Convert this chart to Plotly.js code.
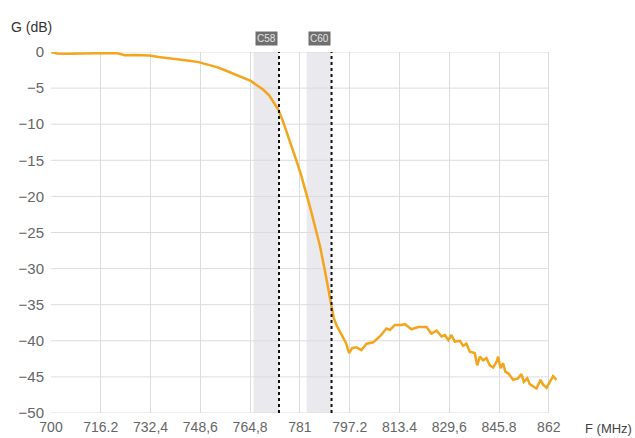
<!DOCTYPE html>
<html>
<head>
<meta charset="utf-8">
<script src="https://cdn.plot.ly/plotly-3.0.1.min.js"></script>
<style>
html,body{margin:0;padding:0;background:#fff;}
#chart{width:635px;height:438px;}
</style>
</head>
<body>
<div id="chart"></div>
<script>
// Frequency (MHz) and gain (dB)
const freq = [700, 702, 705, 710, 715, 720, 722, 724, 727, 730, 732, 735, 740, 745, 748, 751, 754, 757, 760, 763, 765, 767, 769, 771, 773, 774, 775.5, 777, 778.5, 780, 781.5, 783, 784.5, 786, 787.5, 789, 790, 791, 792, 793, 794.5, 796, 797, 798, 799.4, 801, 802.7, 804.9, 807, 809.2, 810.3, 811.9, 814.1, 815.2, 817.3, 819.5, 822.2, 823.8, 825.5, 827.1, 828.2, 829.3, 830.3, 831.4, 833.1, 834.1, 835.2, 836.3, 837.9, 838.7, 839.6, 840.6, 841.7, 842.8, 843.9, 845.0, 845.5, 846.3, 847.1, 847.9, 848.8, 850.4, 852.0, 853.1, 853.9, 855.0, 855.8, 857.1, 858.0, 859.3, 860.2, 861.3, 862.3, 863.4, 864.5];
const gain = [0, -0.2, -0.25, -0.2, -0.15, -0.15, -0.2, -0.45, -0.4, -0.4, -0.5, -0.7, -0.9, -1.2, -1.4, -1.7, -2.1, -2.6, -3.1, -3.6, -4.0, -4.6, -5.2, -6.0, -7.3, -8.0, -9.6, -11.4, -13.3, -15.2, -17.2, -19.4, -21.8, -24.3, -26.8, -30.0, -32.4, -35.0, -36.8, -37.9, -39.0, -40.3, -41.7, -41.0, -40.9, -41.3, -40.4, -40.2, -39.4, -38.3, -38.5, -37.8, -37.8, -37.7, -38.4, -38.1, -38.1, -39.0, -38.6, -39.4, -39.2, -39.9, -39.2, -40.1, -40.0, -40.7, -40.4, -41.5, -41.7, -43.4, -42.2, -42.7, -42.4, -43.4, -43.7, -42.9, -42.2, -43.8, -43.1, -44.3, -44.5, -45.4, -45.2, -44.6, -45.7, -45.2, -46.0, -46.3, -46.6, -45.4, -46.1, -46.5, -45.7, -44.9, -45.4];

// Axis ticks
const xTickVals = [700, 716.2, 732.4, 748.6, 764.8, 781, 797.2, 813.4, 829.6, 845.8, 862];
const xTickText = ['700', '716.2', '732,4', '748,6', '764,8', '781', '797.2', '813.4', '829,6', '845.8', '862'];
const yTickVals = [0, -5, -10, -15, -20, -25, -30, -35, -40, -45, -50];

// Channel bands
const channelNames = ['C58', 'C60'];
const channelStart = [765.9, 783.2];
const channelEnd = [774.2, 791.3];

const gridColor = '#dcdcdc';
const shapes = [];
channelNames.forEach((n, i) => {
  shapes.push({type: 'rect', xref: 'x', yref: 'y', x0: channelStart[i], x1: channelEnd[i], y0: -50, y1: 0,
    fillcolor: '#e9e9ee', line: {width: 0}, layer: 'below'});
});
yTickVals.forEach(v => {
  shapes.push({type: 'line', xref: 'x', yref: 'y', x0: 700, x1: 862, y0: v, y1: v,
    line: {color: gridColor, width: 1}, layer: 'below'});
});
channelNames.forEach((n, i) => {
  shapes.push({type: 'line', xref: 'x', yref: 'y', x0: channelEnd[i], x1: channelEnd[i], y0: -50, y1: 0,
    line: {color: '#111', width: 2, dash: 'dot'}, layer: 'above'});
});

const annotations = channelNames.map((n, i) => ({
  text: n, xref: 'x', yref: 'paper', x: (channelStart[i] + channelEnd[i]) / 2, y: 1.037,
  showarrow: false, bgcolor: '#6e6e6e', font: {family: 'Liberation Sans, Arial, sans-serif', size: 10, color: '#e4e4e4'},
  borderpad: 1, xanchor: 'center', yanchor: 'middle'
}));
annotations.push({text: 'G (dB)', xref: 'paper', yref: 'paper', x: -0.083, y: 1.07, xanchor: 'left', yanchor: 'middle',
  showarrow: false, font: {family: 'Liberation Sans, Arial, sans-serif', size: 14, color: '#333'}});
annotations.push({text: 'F (MHz)', xref: 'paper', yref: 'paper', x: 1.05, y: -0.042, xanchor: 'left', yanchor: 'middle',
  showarrow: false, font: {family: 'Liberation Sans, Arial, sans-serif', size: 13, color: '#444'}});

const trace = {x: freq, y: gain, type: 'scatter', mode: 'lines',
  line: {color: '#F3A51E', width: 2.5}, hoverinfo: 'skip'};

const layout = {
  width: 635, height: 438,
  margin: {l: 51, r: 77, t: 52, b: 25, pad: 0},
  paper_bgcolor: '#fff', plot_bgcolor: 'rgba(0,0,0,0)',
  showlegend: false,
  xaxis: {range: [700, 865], tickvals: xTickVals, ticktext: xTickText, showgrid: true, gridcolor: gridColor,
    zeroline: false, showline: false, ticks: '', fixedrange: true, ticklabelstandoff: 4,
    tickfont: {family: 'Liberation Sans, Arial, sans-serif', size: 14, color: '#666'}},
  yaxis: {range: [-50, 0], tickvals: yTickVals, showgrid: false, zeroline: false, showline: false, ticks: '',
    fixedrange: true, ticklabelstandoff: 6,
    tickfont: {family: 'Liberation Sans, Arial, sans-serif', size: 15, color: '#666'}},
  shapes: shapes,
  annotations: annotations
};

Plotly.newPlot('chart', [trace], layout, {displayModeBar: false, staticPlot: true});
</script>
</body>
</html>
